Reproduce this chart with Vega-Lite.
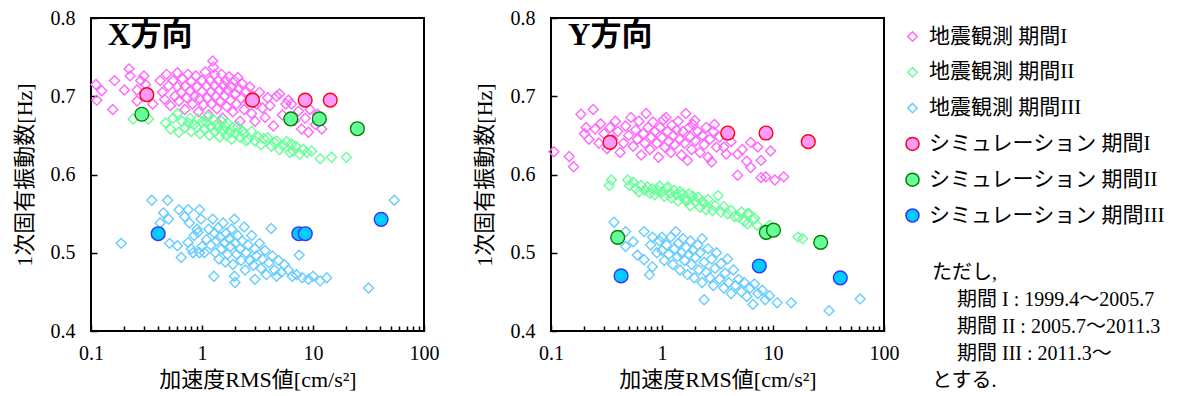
{
  "$schema": "https://vega.github.io/schema/vega-lite/v6.json",
  "background": "white",
  "padding": {"left": 12, "top": 7, "right": 0, "bottom": 0},
  "spacing": 32,
  "config": {
    "font": "Liberation Serif, Noto Sans CJK JP",
    "view": {"stroke": "black", "strokeWidth": 2},
    "axis": {"domain": false, "grid": false, "labelFont": "Liberation Serif, Noto Sans CJK JP", "labelFontSize": 20, "labelColor": "black", "titleFont": "Liberation Serif, Noto Sans CJK JP", "titleFontSize": 22, "titleFontWeight": "normal", "titleColor": "black", "tickColor": "black", "tickWidth": 1.5},
    "legend": {"orient": "none", "legendX": 811, "legendY": 8, "padding": 0, "symbolSize": 170, "symbolStrokeWidth": 1.5, "symbolOpacity": 1, "labelFont": "Liberation Serif, Noto Sans CJK JP", "labelFontSize": 21, "labelColor": "black", "labelLimit": 400, "labelOffset": 6, "rowPadding": 13.8, "titleFont": "Liberation Serif, Noto Sans CJK JP", "titleFontSize": 20, "titleFontWeight": "normal", "titleColor": "black", "titleLimit": 400, "titleLineHeight": 27, "titlePadding": 37, "titleAnchor": "start", "titleAlign": "left"},
    "title": {"font": "Liberation Serif, Noto Sans CJK JP", "fontSize": 31, "fontWeight": "bold", "color": "black"}
  },
  "datasets": {
    "names": [
      {"k": "a", "ser": "地震観測 期間I"}, {"k": "b", "ser": "地震観測 期間II"}, {"k": "c", "ser": "地震観測 期間III"},
      {"k": "d", "ser": "シミュレーション 期間I"}, {"k": "e", "ser": "シミュレーション 期間II"}, {"k": "f", "ser": "シミュレーション 期間III"}
    ],
    "xdir": [
      {"k":"a","acc":0.111,"hz":0.715},{"k":"a","acc":0.125,"hz":0.707},{"k":"a","acc":0.113,"hz":0.695},{"k":"a","acc":0.163,"hz":0.72},{"k":"a","acc":0.157,"hz":0.683},
      {"k":"a","acc":0.2,"hz":0.708},{"k":"a","acc":0.22,"hz":0.735},{"k":"a","acc":0.225,"hz":0.726},{"k":"a","acc":0.26,"hz":0.708},{"k":"a","acc":0.26,"hz":0.694},
      {"k":"a","acc":0.3,"hz":0.726},{"k":"a","acc":0.31,"hz":0.715},{"k":"a","acc":0.28,"hz":0.72},{"k":"a","acc":0.33,"hz":0.7},{"k":"a","acc":0.36,"hz":0.69},
      {"k":"a","acc":0.42,"hz":0.72},{"k":"a","acc":0.44,"hz":0.705},{"k":"a","acc":0.46,"hz":0.696},{"k":"a","acc":0.48,"hz":0.728},{"k":"a","acc":0.5,"hz":0.713},
      {"k":"a","acc":0.52,"hz":0.688},{"k":"a","acc":0.55,"hz":0.72},{"k":"a","acc":0.57,"hz":0.7},{"k":"a","acc":0.6,"hz":0.73},{"k":"a","acc":0.6,"hz":0.712},
      {"k":"a","acc":0.62,"hz":0.694},{"k":"a","acc":0.65,"hz":0.705},{"k":"a","acc":0.67,"hz":0.722},{"k":"a","acc":0.7,"hz":0.683},{"k":"a","acc":0.7,"hz":0.713},
      {"k":"a","acc":0.73,"hz":0.698},{"k":"a","acc":0.75,"hz":0.728},{"k":"a","acc":0.78,"hz":0.706},{"k":"a","acc":0.8,"hz":0.719},{"k":"a","acc":0.82,"hz":0.69},
      {"k":"a","acc":0.85,"hz":0.7},{"k":"a","acc":0.88,"hz":0.726},{"k":"a","acc":0.9,"hz":0.712},{"k":"a","acc":0.93,"hz":0.68},{"k":"a","acc":0.95,"hz":0.697},
      {"k":"a","acc":1.0,"hz":0.72},{"k":"a","acc":1.0,"hz":0.706},{"k":"a","acc":1.03,"hz":0.689},{"k":"a","acc":1.07,"hz":0.731},{"k":"a","acc":1.1,"hz":0.713},
      {"k":"a","acc":1.12,"hz":0.698},{"k":"a","acc":1.15,"hz":0.676},{"k":"a","acc":1.18,"hz":0.72},{"k":"a","acc":1.2,"hz":0.705},{"k":"a","acc":1.22,"hz":0.69},
      {"k":"a","acc":1.25,"hz":0.745},{"k":"a","acc":1.27,"hz":0.737},{"k":"a","acc":1.3,"hz":0.728},{"k":"a","acc":1.3,"hz":0.714},{"k":"a","acc":1.33,"hz":0.7},
      {"k":"a","acc":1.36,"hz":0.684},{"k":"a","acc":1.4,"hz":0.72},{"k":"a","acc":1.43,"hz":0.708},{"k":"a","acc":1.46,"hz":0.694},{"k":"a","acc":1.5,"hz":0.728},
      {"k":"a","acc":1.53,"hz":0.672},{"k":"a","acc":1.56,"hz":0.713},{"k":"a","acc":1.6,"hz":0.7},{"k":"a","acc":1.63,"hz":0.72},{"k":"a","acc":1.67,"hz":0.687},
      {"k":"a","acc":1.7,"hz":0.708},{"k":"a","acc":1.75,"hz":0.725},{"k":"a","acc":1.8,"hz":0.695},{"k":"a","acc":1.85,"hz":0.712},{"k":"a","acc":1.9,"hz":0.68},
      {"k":"a","acc":1.95,"hz":0.72},{"k":"a","acc":2.0,"hz":0.703},{"k":"a","acc":2.05,"hz":0.69},{"k":"a","acc":2.1,"hz":0.724},{"k":"a","acc":2.15,"hz":0.71},
      {"k":"a","acc":2.2,"hz":0.668},{"k":"a","acc":2.25,"hz":0.697},{"k":"a","acc":2.3,"hz":0.716},{"k":"a","acc":2.4,"hz":0.683},{"k":"a","acc":2.5,"hz":0.706},
      {"k":"a","acc":2.6,"hz":0.694},{"k":"a","acc":2.7,"hz":0.712},{"k":"a","acc":2.8,"hz":0.678},{"k":"a","acc":2.9,"hz":0.7},{"k":"a","acc":3.0,"hz":0.668},
      {"k":"a","acc":3.1,"hz":0.69},{"k":"a","acc":3.3,"hz":0.705},{"k":"a","acc":3.5,"hz":0.685},{"k":"a","acc":3.7,"hz":0.673},{"k":"a","acc":3.9,"hz":0.698},
      {"k":"a","acc":4.1,"hz":0.688},{"k":"a","acc":4.4,"hz":0.662},{"k":"a","acc":4.7,"hz":0.7},{"k":"a","acc":5.0,"hz":0.703},{"k":"a","acc":5.3,"hz":0.676},
      {"k":"a","acc":5.7,"hz":0.69},{"k":"a","acc":6.0,"hz":0.695},{"k":"a","acc":6.4,"hz":0.69},{"k":"a","acc":6.8,"hz":0.669},{"k":"a","acc":7.4,"hz":0.681},
      {"k":"a","acc":7.9,"hz":0.658},{"k":"a","acc":8.5,"hz":0.672},{"k":"a","acc":9.1,"hz":0.654},{"k":"a","acc":9.4,"hz":0.683},{"k":"a","acc":10.5,"hz":0.664},
      {"k":"a","acc":11.0,"hz":0.677},{"k":"a","acc":12.0,"hz":0.658},

      {"k":"b","acc":0.24,"hz":0.671},{"k":"b","acc":0.33,"hz":0.671},{"k":"b","acc":0.47,"hz":0.666},{"k":"b","acc":0.52,"hz":0.658},{"k":"b","acc":0.55,"hz":0.672},
      {"k":"b","acc":0.6,"hz":0.678},{"k":"b","acc":0.62,"hz":0.654},{"k":"b","acc":0.66,"hz":0.668},{"k":"b","acc":0.7,"hz":0.66},{"k":"b","acc":0.75,"hz":0.666},
      {"k":"b","acc":0.78,"hz":0.672},{"k":"b","acc":0.8,"hz":0.655},{"k":"b","acc":0.85,"hz":0.664},{"k":"b","acc":0.9,"hz":0.66},{"k":"b","acc":0.92,"hz":0.671},
      {"k":"b","acc":0.96,"hz":0.652},{"k":"b","acc":1.0,"hz":0.667},{"k":"b","acc":1.05,"hz":0.658},{"k":"b","acc":1.1,"hz":0.666},{"k":"b","acc":1.13,"hz":0.674},
      {"k":"b","acc":1.17,"hz":0.65},{"k":"b","acc":1.2,"hz":0.661},{"k":"b","acc":1.25,"hz":0.671},{"k":"b","acc":1.3,"hz":0.655},{"k":"b","acc":1.35,"hz":0.664},
      {"k":"b","acc":1.4,"hz":0.66},{"k":"b","acc":1.45,"hz":0.648},{"k":"b","acc":1.5,"hz":0.668},{"k":"b","acc":1.55,"hz":0.656},{"k":"b","acc":1.6,"hz":0.662},
      {"k":"b","acc":1.65,"hz":0.65},{"k":"b","acc":1.7,"hz":0.666},{"k":"b","acc":1.8,"hz":0.654},{"k":"b","acc":1.85,"hz":0.645},{"k":"b","acc":1.9,"hz":0.66},
      {"k":"b","acc":2.0,"hz":0.652},{"k":"b","acc":2.1,"hz":0.661},{"k":"b","acc":2.2,"hz":0.648},{"k":"b","acc":2.3,"hz":0.656},{"k":"b","acc":2.4,"hz":0.652},
      {"k":"b","acc":2.5,"hz":0.643},{"k":"b","acc":2.6,"hz":0.645},{"k":"b","acc":2.8,"hz":0.655},{"k":"b","acc":3.0,"hz":0.643},{"k":"b","acc":3.2,"hz":0.648},
      {"k":"b","acc":3.4,"hz":0.638},{"k":"b","acc":3.6,"hz":0.646},{"k":"b","acc":3.9,"hz":0.647},{"k":"b","acc":4.2,"hz":0.636},{"k":"b","acc":4.5,"hz":0.641},
      {"k":"b","acc":4.7,"hz":0.643},{"k":"b","acc":5.0,"hz":0.632},{"k":"b","acc":5.4,"hz":0.637},{"k":"b","acc":5.8,"hz":0.642},{"k":"b","acc":6.2,"hz":0.628},
      {"k":"b","acc":6.4,"hz":0.639},{"k":"b","acc":6.6,"hz":0.63},{"k":"b","acc":7.0,"hz":0.636},{"k":"b","acc":7.6,"hz":0.626},{"k":"b","acc":8.2,"hz":0.632},
      {"k":"b","acc":8.8,"hz":0.628},{"k":"b","acc":9.7,"hz":0.63},{"k":"b","acc":11.6,"hz":0.62},{"k":"b","acc":14.7,"hz":0.622},{"k":"b","acc":20,"hz":0.622},

      {"k":"c","acc":0.187,"hz":0.512},{"k":"c","acc":0.353,"hz":0.567},{"k":"c","acc":0.49,"hz":0.567},{"k":"c","acc":0.45,"hz":0.551},{"k":"c","acc":0.5,"hz":0.543},
      {"k":"c","acc":0.42,"hz":0.538},{"k":"c","acc":0.51,"hz":0.512},{"k":"c","acc":0.6,"hz":0.509},{"k":"c","acc":0.62,"hz":0.555},{"k":"c","acc":0.65,"hz":0.494},
      {"k":"c","acc":0.7,"hz":0.546},{"k":"c","acc":0.75,"hz":0.555},{"k":"c","acc":0.75,"hz":0.513},{"k":"c","acc":0.77,"hz":0.538},{"k":"c","acc":0.8,"hz":0.505},
      {"k":"c","acc":0.83,"hz":0.5},{"k":"c","acc":0.85,"hz":0.522},{"k":"c","acc":0.9,"hz":0.53},{"k":"c","acc":0.92,"hz":0.526},{"k":"c","acc":0.95,"hz":0.555},
      {"k":"c","acc":0.95,"hz":0.5},{"k":"c","acc":0.98,"hz":0.543},{"k":"c","acc":1.0,"hz":0.508},{"k":"c","acc":1.05,"hz":0.5},{"k":"c","acc":1.1,"hz":0.517},
      {"k":"c","acc":1.15,"hz":0.53},{"k":"c","acc":1.2,"hz":0.51},{"k":"c","acc":1.25,"hz":0.543},{"k":"c","acc":1.28,"hz":0.47},{"k":"c","acc":1.3,"hz":0.525},
      {"k":"c","acc":1.32,"hz":0.5},{"k":"c","acc":1.35,"hz":0.515},{"k":"c","acc":1.4,"hz":0.532},{"k":"c","acc":1.42,"hz":0.492},{"k":"c","acc":1.45,"hz":0.52},
      {"k":"c","acc":1.5,"hz":0.505},{"k":"c","acc":1.55,"hz":0.538},{"k":"c","acc":1.6,"hz":0.512},{"k":"c","acc":1.62,"hz":0.488},{"k":"c","acc":1.65,"hz":0.525},
      {"k":"c","acc":1.7,"hz":0.498},{"k":"c","acc":1.75,"hz":0.518},{"k":"c","acc":1.8,"hz":0.508},{"k":"c","acc":1.85,"hz":0.53},{"k":"c","acc":1.9,"hz":0.485},
      {"k":"c","acc":1.96,"hz":0.543},{"k":"c","acc":1.96,"hz":0.47},{"k":"c","acc":1.98,"hz":0.462},{"k":"c","acc":2.0,"hz":0.512},{"k":"c","acc":2.05,"hz":0.498},
      {"k":"c","acc":2.1,"hz":0.522},{"k":"c","acc":2.2,"hz":0.505},{"k":"c","acc":2.25,"hz":0.49},{"k":"c","acc":2.3,"hz":0.515},{"k":"c","acc":2.4,"hz":0.533},
      {"k":"c","acc":2.45,"hz":0.478},{"k":"c","acc":2.5,"hz":0.5},{"k":"c","acc":2.6,"hz":0.51},{"k":"c","acc":2.7,"hz":0.49},{"k":"c","acc":2.8,"hz":0.522},
      {"k":"c","acc":2.9,"hz":0.484},{"k":"c","acc":3.0,"hz":0.466},{"k":"c","acc":3.0,"hz":0.505},{"k":"c","acc":3.1,"hz":0.496},{"k":"c","acc":3.3,"hz":0.512},
      {"k":"c","acc":3.4,"hz":0.48},{"k":"c","acc":3.5,"hz":0.492},{"k":"c","acc":3.7,"hz":0.503},{"k":"c","acc":3.8,"hz":0.472},{"k":"c","acc":4.0,"hz":0.487},
      {"k":"c","acc":4.2,"hz":0.531},{"k":"c","acc":4.3,"hz":0.496},{"k":"c","acc":4.5,"hz":0.478},{"k":"c","acc":4.7,"hz":0.47},{"k":"c","acc":4.9,"hz":0.49},
      {"k":"c","acc":5.2,"hz":0.475},{"k":"c","acc":5.5,"hz":0.485},{"k":"c","acc":6.0,"hz":0.478},{"k":"c","acc":6.5,"hz":0.47},{"k":"c","acc":7.1,"hz":0.472},
      {"k":"c","acc":7.5,"hz":0.497},{"k":"c","acc":8.0,"hz":0.468},{"k":"c","acc":9.1,"hz":0.466},{"k":"c","acc":10.0,"hz":0.47},{"k":"c","acc":11.6,"hz":0.464},
      {"k":"c","acc":13.3,"hz":0.468},{"k":"c","acc":31.6,"hz":0.455},{"k":"c","acc":54,"hz":0.567},

      {"k":"d","acc":0.318,"hz":0.702},{"k":"d","acc":2.85,"hz":0.695},{"k":"d","acc":8.5,"hz":0.695},{"k":"d","acc":14.3,"hz":0.695},
      {"k":"e","acc":0.287,"hz":0.677},{"k":"e","acc":6.31,"hz":0.671},{"k":"e","acc":11.4,"hz":0.671},{"k":"e","acc":25.1,"hz":0.6585},
      {"k":"f","acc":0.403,"hz":0.5243},{"k":"f","acc":7.46,"hz":0.5243},{"k":"f","acc":8.52,"hz":0.5243},{"k":"f","acc":41.1,"hz":0.5427}
    ],
    "ydir": [
      {"k":"a","acc":0.106,"hz":0.629},{"k":"a","acc":0.146,"hz":0.623},{"k":"a","acc":0.16,"hz":0.61},{"k":"a","acc":0.186,"hz":0.677},{"k":"a","acc":0.24,"hz":0.683},
      {"k":"a","acc":0.2,"hz":0.652},{"k":"a","acc":0.207,"hz":0.66},{"k":"a","acc":0.22,"hz":0.645},{"k":"a","acc":0.25,"hz":0.658},{"k":"a","acc":0.27,"hz":0.64},
      {"k":"a","acc":0.28,"hz":0.665},{"k":"a","acc":0.3,"hz":0.652},{"k":"a","acc":0.32,"hz":0.633},{"k":"a","acc":0.34,"hz":0.66},{"k":"a","acc":0.36,"hz":0.645},
      {"k":"a","acc":0.38,"hz":0.668},{"k":"a","acc":0.4,"hz":0.655},{"k":"a","acc":0.42,"hz":0.628},{"k":"a","acc":0.45,"hz":0.64},{"k":"a","acc":0.47,"hz":0.662},
      {"k":"a","acc":0.5,"hz":0.65},{"k":"a","acc":0.525,"hz":0.673},{"k":"a","acc":0.55,"hz":0.636},{"k":"a","acc":0.58,"hz":0.657},{"k":"a","acc":0.6,"hz":0.645},
      {"k":"a","acc":0.62,"hz":0.668},{"k":"a","acc":0.65,"hz":0.625},{"k":"a","acc":0.68,"hz":0.652},{"k":"a","acc":0.7,"hz":0.64},{"k":"a","acc":0.72,"hz":0.678},
      {"k":"a","acc":0.75,"hz":0.66},{"k":"a","acc":0.78,"hz":0.632},{"k":"a","acc":0.8,"hz":0.648},{"k":"a","acc":0.83,"hz":0.667},{"k":"a","acc":0.86,"hz":0.655},
      {"k":"a","acc":0.9,"hz":0.64},{"k":"a","acc":0.93,"hz":0.622},{"k":"a","acc":0.96,"hz":0.66},{"k":"a","acc":1.0,"hz":0.647},{"k":"a","acc":1.03,"hz":0.67},
      {"k":"a","acc":1.06,"hz":0.635},{"k":"a","acc":1.09,"hz":0.673},{"k":"a","acc":1.12,"hz":0.655},{"k":"a","acc":1.15,"hz":0.642},{"k":"a","acc":1.2,"hz":0.628},
      {"k":"a","acc":1.23,"hz":0.663},{"k":"a","acc":1.27,"hz":0.65},{"k":"a","acc":1.3,"hz":0.638},{"k":"a","acc":1.35,"hz":0.657},{"k":"a","acc":1.4,"hz":0.668},
      {"k":"a","acc":1.45,"hz":0.645},{"k":"a","acc":1.5,"hz":0.625},{"k":"a","acc":1.55,"hz":0.655},{"k":"a","acc":1.6,"hz":0.64},{"k":"a","acc":1.64,"hz":0.678},
      {"k":"a","acc":1.7,"hz":0.618},{"k":"a","acc":1.75,"hz":0.66},{"k":"a","acc":1.8,"hz":0.648},{"k":"a","acc":1.85,"hz":0.632},{"k":"a","acc":1.9,"hz":0.664},
      {"k":"a","acc":1.97,"hz":0.669},{"k":"a","acc":2.0,"hz":0.643},{"k":"a","acc":2.1,"hz":0.655},{"k":"a","acc":2.2,"hz":0.628},{"k":"a","acc":2.3,"hz":0.65},
      {"k":"a","acc":2.4,"hz":0.638},{"k":"a","acc":2.5,"hz":0.66},{"k":"a","acc":2.6,"hz":0.622},{"k":"a","acc":2.7,"hz":0.645},{"k":"a","acc":2.8,"hz":0.616},
      {"k":"a","acc":2.9,"hz":0.655},{"k":"a","acc":2.97,"hz":0.664},{"k":"a","acc":3.1,"hz":0.635},{"k":"a","acc":3.3,"hz":0.648},{"k":"a","acc":3.6,"hz":0.635},
      {"k":"a","acc":3.8,"hz":0.626},{"k":"a","acc":4.2,"hz":0.642},{"k":"a","acc":4.8,"hz":0.626},{"k":"a","acc":4.8,"hz":0.599},{"k":"a","acc":5.3,"hz":0.632},
      {"k":"a","acc":5.8,"hz":0.617},{"k":"a","acc":6.3,"hz":0.641},{"k":"a","acc":6.3,"hz":0.609},{"k":"a","acc":7.3,"hz":0.635},{"k":"a","acc":7.8,"hz":0.618},
      {"k":"a","acc":7.8,"hz":0.596},{"k":"a","acc":8.6,"hz":0.597},{"k":"a","acc":9.5,"hz":0.63},{"k":"a","acc":10.4,"hz":0.593},{"k":"a","acc":12.5,"hz":0.597},

      {"k":"b","acc":0.335,"hz":0.586},{"k":"b","acc":0.35,"hz":0.593},{"k":"b","acc":0.49,"hz":0.593},{"k":"b","acc":0.51,"hz":0.586},{"k":"b","acc":0.55,"hz":0.59},
      {"k":"b","acc":0.58,"hz":0.582},{"k":"b","acc":0.62,"hz":0.578},{"k":"b","acc":0.65,"hz":0.586},{"k":"b","acc":0.7,"hz":0.58},{"k":"b","acc":0.74,"hz":0.584},
      {"k":"b","acc":0.78,"hz":0.576},{"k":"b","acc":0.82,"hz":0.582},{"k":"b","acc":0.86,"hz":0.574},{"k":"b","acc":0.91,"hz":0.58},{"k":"b","acc":0.95,"hz":0.585},
      {"k":"b","acc":1.0,"hz":0.578},{"k":"b","acc":1.05,"hz":0.572},{"k":"b","acc":1.1,"hz":0.582},{"k":"b","acc":1.13,"hz":0.584},{"k":"b","acc":1.18,"hz":0.576},
      {"k":"b","acc":1.22,"hz":0.57},{"k":"b","acc":1.29,"hz":0.58},{"k":"b","acc":1.35,"hz":0.574},{"k":"b","acc":1.4,"hz":0.566},{"k":"b","acc":1.45,"hz":0.578},
      {"k":"b","acc":1.54,"hz":0.575},{"k":"b","acc":1.6,"hz":0.568},{"k":"b","acc":1.7,"hz":0.567},{"k":"b","acc":1.75,"hz":0.575},{"k":"b","acc":1.8,"hz":0.56},
      {"k":"b","acc":1.9,"hz":0.572},{"k":"b","acc":2.0,"hz":0.565},{"k":"b","acc":2.1,"hz":0.571},{"k":"b","acc":2.2,"hz":0.558},{"k":"b","acc":2.3,"hz":0.566},
      {"k":"b","acc":2.4,"hz":0.563},{"k":"b","acc":2.5,"hz":0.555},{"k":"b","acc":2.6,"hz":0.568},{"k":"b","acc":2.85,"hz":0.554},{"k":"b","acc":3.0,"hz":0.56},
      {"k":"b","acc":3.2,"hz":0.573},{"k":"b","acc":3.4,"hz":0.552},{"k":"b","acc":3.6,"hz":0.559},{"k":"b","acc":3.9,"hz":0.55},{"k":"b","acc":4.2,"hz":0.554},
      {"k":"b","acc":4.5,"hz":0.546},{"k":"b","acc":4.8,"hz":0.546},{"k":"b","acc":5.2,"hz":0.552},{"k":"b","acc":5.5,"hz":0.54},{"k":"b","acc":5.9,"hz":0.55},
      {"k":"b","acc":5.9,"hz":0.537},{"k":"b","acc":6.1,"hz":0.55},{"k":"b","acc":6.6,"hz":0.542},{"k":"b","acc":6.8,"hz":0.544},{"k":"b","acc":7.2,"hz":0.535},
      {"k":"b","acc":9.3,"hz":0.535},{"k":"b","acc":16.8,"hz":0.52},{"k":"b","acc":18.5,"hz":0.518},

      {"k":"c","acc":0.37,"hz":0.539},{"k":"c","acc":0.47,"hz":0.527},{"k":"c","acc":0.55,"hz":0.514},{"k":"c","acc":0.47,"hz":0.508},{"k":"c","acc":0.6,"hz":0.497},
      {"k":"c","acc":0.69,"hz":0.527},{"k":"c","acc":0.69,"hz":0.491},{"k":"c","acc":0.77,"hz":0.472},{"k":"c","acc":0.79,"hz":0.51},{"k":"c","acc":0.82,"hz":0.52},
      {"k":"c","acc":0.82,"hz":0.482},{"k":"c","acc":0.9,"hz":0.5},{"k":"c","acc":0.95,"hz":0.515},{"k":"c","acc":1.0,"hz":0.52},{"k":"c","acc":1.0,"hz":0.503},
      {"k":"c","acc":1.05,"hz":0.49},{"k":"c","acc":1.1,"hz":0.51},{"k":"c","acc":1.15,"hz":0.498},{"k":"c","acc":1.2,"hz":0.52},{"k":"c","acc":1.25,"hz":0.485},
      {"k":"c","acc":1.3,"hz":0.505},{"k":"c","acc":1.33,"hz":0.527},{"k":"c","acc":1.38,"hz":0.495},{"k":"c","acc":1.4,"hz":0.512},{"k":"c","acc":1.45,"hz":0.478},
      {"k":"c","acc":1.5,"hz":0.5},{"k":"c","acc":1.55,"hz":0.518},{"k":"c","acc":1.6,"hz":0.49},{"k":"c","acc":1.65,"hz":0.507},{"k":"c","acc":1.7,"hz":0.472},
      {"k":"c","acc":1.75,"hz":0.498},{"k":"c","acc":1.8,"hz":0.515},{"k":"c","acc":1.85,"hz":0.485},{"k":"c","acc":1.9,"hz":0.503},{"k":"c","acc":1.95,"hz":0.468},
      {"k":"c","acc":2.0,"hz":0.494},{"k":"c","acc":2.1,"hz":0.51},{"k":"c","acc":2.15,"hz":0.478},{"k":"c","acc":2.2,"hz":0.5},{"k":"c","acc":2.3,"hz":0.518},
      {"k":"c","acc":2.3,"hz":0.462},{"k":"c","acc":2.4,"hz":0.44},{"k":"c","acc":2.4,"hz":0.488},{"k":"c","acc":2.5,"hz":0.475},{"k":"c","acc":2.6,"hz":0.505},
      {"k":"c","acc":2.7,"hz":0.468},{"k":"c","acc":2.8,"hz":0.492},{"k":"c","acc":2.9,"hz":0.458},{"k":"c","acc":3.0,"hz":0.48},{"k":"c","acc":3.1,"hz":0.5},
      {"k":"c","acc":3.3,"hz":0.466},{"k":"c","acc":3.4,"hz":0.486},{"k":"c","acc":3.6,"hz":0.455},{"k":"c","acc":3.7,"hz":0.474},{"k":"c","acc":3.9,"hz":0.492},
      {"k":"c","acc":4.0,"hz":0.462},{"k":"c","acc":4.2,"hz":0.448},{"k":"c","acc":4.4,"hz":0.478},{"k":"c","acc":4.6,"hz":0.458},{"k":"c","acc":4.9,"hz":0.466},
      {"k":"c","acc":5.2,"hz":0.45},{"k":"c","acc":5.5,"hz":0.462},{"k":"c","acc":5.8,"hz":0.444},{"k":"c","acc":6.2,"hz":0.455},{"k":"c","acc":6.6,"hz":0.434},
      {"k":"c","acc":6.8,"hz":0.46},{"k":"c","acc":7.3,"hz":0.448},{"k":"c","acc":8.0,"hz":0.452},{"k":"c","acc":8.5,"hz":0.44},{"k":"c","acc":9.3,"hz":0.445},
      {"k":"c","acc":10.9,"hz":0.436},{"k":"c","acc":14.6,"hz":0.436},{"k":"c","acc":32,"hz":0.426},{"k":"c","acc":61,"hz":0.441},

      {"k":"d","acc":0.34,"hz":0.641},{"k":"d","acc":3.91,"hz":0.653},{"k":"d","acc":8.65,"hz":0.653},{"k":"d","acc":20.8,"hz":0.642},
      {"k":"e","acc":0.399,"hz":0.5196},{"k":"e","acc":8.7,"hz":0.526},{"k":"e","acc":10.1,"hz":0.5288},{"k":"e","acc":26.9,"hz":0.5132},
      {"k":"f","acc":0.428,"hz":0.4704},{"k":"f","acc":7.53,"hz":0.4831},{"k":"f","acc":40.4,"hz":0.4679}
    ]
  },
  "hconcat": [
    {
      "width": 333, "height": 313,
      "title": {"text": "X方向", "anchor": "start", "frame": "group", "dx": 17, "offset": -44, "baseline": "top"},
      "data": {"name": "xdir"},
      "transform": [{"lookup": "k", "from": {"data": {"name": "names"}, "key": "k", "fields": ["ser"]}}],
      "mark": {"type": "point", "size": 190, "strokeWidth": 1.4, "opacity": 1},
      "encoding": {
        "x": {"field": "acc", "type": "quantitative", "scale": {"type": "log", "domain": [0.1, 100], "nice": false},
          "axis": {"title": "加速度RMS値[cm/s²]", "values": [0.1,0.2,0.3,0.4,0.5,0.6,0.7,0.8,0.9,1,2,3,4,5,6,7,8,9,10,20,30,40,50,60,70,80,90,100],
            "labelExpr": "datum.value==0.1?'0.1':datum.value==1?'1':datum.value==10?'10':datum.value==100?'100':''",
            "labelOverlap": false, "labelFlush": false, "labelPadding": 18, "titlePadding": 5,
            "tickSize": {"condition": {"test": "datum.value==0.1||datum.value==1||datum.value==10||datum.value==100", "value": -6}, "value": -5}}},
        "y": {"field": "hz", "type": "quantitative", "scale": {"domain": [0.4, 0.8], "nice": false, "zero": false},
          "axis": {"title": "1次固有振動数[Hz]", "values": [0.4,0.5,0.6,0.7,0.8], "format": ".1f", "tickSize": -6, "labelPadding": 22, "titlePadding": 14}},
        "shape": {"field": "ser", "type": "nominal",
          "scale": {"domain": ["地震観測 期間I","地震観測 期間II","地震観測 期間III","シミュレーション 期間I","シミュレーション 期間II","シミュレーション 期間III"],
            "range": ["M0,-0.72L0.72,0L0,0.72L-0.72,0Z","M0,-0.72L0.72,0L0,0.72L-0.72,0Z","M0,-0.72L0.72,0L0,0.72L-0.72,0Z","circle","circle","circle"]},
          "legend": {"title": ["\u200b\u3000\u2002ただし,", "\u200b\u3000\u3000\u2002\u2005期間 I : 1999.4～2005.7", "\u200b\u3000\u3000\u2002\u2005期間 II : 2005.7～2011.3", "\u200b\u3000\u3000\u2002\u2005期間 III : 2011.3～", "\u200b\u3000\u2002とする."], "titleOrient": "bottom"}},
        "stroke": {"field": "ser", "type": "nominal",
          "scale": {"domain": ["地震観測 期間I","地震観測 期間II","地震観測 期間III","シミュレーション 期間I","シミュレーション 期間II","シミュレーション 期間III"],
            "range": ["#FF66FF","#66FF99","#66CCFF","#FF0000","#008000","#3333FF"]},
          "legend": {"title": ["\u200b\u3000\u2002ただし,", "\u200b\u3000\u3000\u2002\u2005期間 I : 1999.4～2005.7", "\u200b\u3000\u3000\u2002\u2005期間 II : 2005.7～2011.3", "\u200b\u3000\u3000\u2002\u2005期間 III : 2011.3～", "\u200b\u3000\u2002とする."], "titleOrient": "bottom"}},
        "fill": {"field": "ser", "type": "nominal",
          "scale": {"domain": ["地震観測 期間I","地震観測 期間II","地震観測 期間III","シミュレーション 期間I","シミュレーション 期間II","シミュレーション 期間III"],
            "range": ["transparent","transparent","transparent","#FF99FF","#66FF99","#00CCFF"]},
          "legend": {"title": ["\u200b\u3000\u2002ただし,", "\u200b\u3000\u3000\u2002\u2005期間 I : 1999.4～2005.7", "\u200b\u3000\u3000\u2002\u2005期間 II : 2005.7～2011.3", "\u200b\u3000\u3000\u2002\u2005期間 III : 2011.3～", "\u200b\u3000\u2002とする."], "titleOrient": "bottom"}}
      }
    },
    {
      "width": 333, "height": 313,
      "title": {"text": "Y方向", "anchor": "start", "frame": "group", "dx": 17, "offset": -44, "baseline": "top"},
      "data": {"name": "ydir"},
      "transform": [{"lookup": "k", "from": {"data": {"name": "names"}, "key": "k", "fields": ["ser"]}}],
      "mark": {"type": "point", "size": 190, "strokeWidth": 1.4, "opacity": 1},
      "encoding": {
        "x": {"field": "acc", "type": "quantitative", "scale": {"type": "log", "domain": [0.1, 100], "nice": false},
          "axis": {"title": "加速度RMS値[cm/s²]", "values": [0.1,0.2,0.3,0.4,0.5,0.6,0.7,0.8,0.9,1,2,3,4,5,6,7,8,9,10,20,30,40,50,60,70,80,90,100],
            "labelExpr": "datum.value==0.1?'0.1':datum.value==1?'1':datum.value==10?'10':datum.value==100?'100':''",
            "labelOverlap": false, "labelFlush": false, "labelPadding": 18, "titlePadding": 5,
            "tickSize": {"condition": {"test": "datum.value==0.1||datum.value==1||datum.value==10||datum.value==100", "value": -6}, "value": -5}}},
        "y": {"field": "hz", "type": "quantitative", "scale": {"domain": [0.4, 0.8], "nice": false, "zero": false},
          "axis": {"title": "1次固有振動数[Hz]", "values": [0.4,0.5,0.6,0.7,0.8], "format": ".1f", "tickSize": -6, "labelPadding": 22, "titlePadding": 14}},
        "shape": {"field": "ser", "type": "nominal",
          "scale": {"domain": ["地震観測 期間I","地震観測 期間II","地震観測 期間III","シミュレーション 期間I","シミュレーション 期間II","シミュレーション 期間III"],
            "range": ["M0,-0.72L0.72,0L0,0.72L-0.72,0Z","M0,-0.72L0.72,0L0,0.72L-0.72,0Z","M0,-0.72L0.72,0L0,0.72L-0.72,0Z","circle","circle","circle"]},
          "legend": {"title": ["\u200b\u3000\u2002ただし,", "\u200b\u3000\u3000\u2002\u2005期間 I : 1999.4～2005.7", "\u200b\u3000\u3000\u2002\u2005期間 II : 2005.7～2011.3", "\u200b\u3000\u3000\u2002\u2005期間 III : 2011.3～", "\u200b\u3000\u2002とする."], "titleOrient": "bottom"}},
        "stroke": {"field": "ser", "type": "nominal",
          "scale": {"domain": ["地震観測 期間I","地震観測 期間II","地震観測 期間III","シミュレーション 期間I","シミュレーション 期間II","シミュレーション 期間III"],
            "range": ["#FF66FF","#66FF99","#66CCFF","#FF0000","#008000","#3333FF"]},
          "legend": {"title": ["\u200b\u3000\u2002ただし,", "\u200b\u3000\u3000\u2002\u2005期間 I : 1999.4～2005.7", "\u200b\u3000\u3000\u2002\u2005期間 II : 2005.7～2011.3", "\u200b\u3000\u3000\u2002\u2005期間 III : 2011.3～", "\u200b\u3000\u2002とする."], "titleOrient": "bottom"}},
        "fill": {"field": "ser", "type": "nominal",
          "scale": {"domain": ["地震観測 期間I","地震観測 期間II","地震観測 期間III","シミュレーション 期間I","シミュレーション 期間II","シミュレーション 期間III"],
            "range": ["transparent","transparent","transparent","#FF99FF","#66FF99","#00CCFF"]},
          "legend": {"title": ["\u200b\u3000\u2002ただし,", "\u200b\u3000\u3000\u2002\u2005期間 I : 1999.4～2005.7", "\u200b\u3000\u3000\u2002\u2005期間 II : 2005.7～2011.3", "\u200b\u3000\u3000\u2002\u2005期間 III : 2011.3～", "\u200b\u3000\u2002とする."], "titleOrient": "bottom"}}
      }
    }
  ]
}
